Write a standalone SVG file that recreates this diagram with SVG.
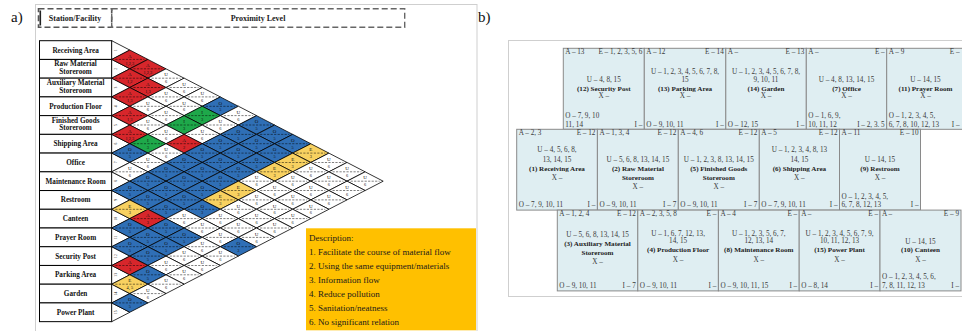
<svg xmlns="http://www.w3.org/2000/svg" xmlns:xlink="http://www.w3.org/1999/xlink" width="962" height="331" viewBox="0 0 962 331">
<style>
text{font-family:"Liberation Serif","Times New Roman",serif}
.lab{font-size:15px;fill:#111}
.hd{font-size:8px;font-weight:bold;text-anchor:middle;fill:#222}
.st rect{fill:#fff;stroke:#000;stroke-width:1}
.st text{font-size:7.2px;font-weight:bold;text-anchor:middle;fill:#111}
#rel text{font-size:5px;text-anchor:middle;fill:#111}
#rel text.n{font-size:4.3px}
#rownum text{font-size:3.6px;text-anchor:middle;fill:#111}
.a{fill:#d7262b}.e{fill:#f8d160}.i{fill:#1ea84a}.o{fill:#2f6fb6}.u{fill:#fff}
.desc text{font-size:9px;fill:#1a1a1a}
.bk rect{fill:#dfeef2;stroke:#8a8a8a;stroke-width:1}
.bk text{font-size:7.2px;fill:#3a3a3a}
.bk text.r{text-anchor:end}
.bk text.c{text-anchor:middle}
.bk text.b{font-weight:bold;font-size:7.1px;fill:#222}
</style>
<defs>
<g id="d"><polygon points="-18.1,0 0,-9.365 18.1,0 0,9.365" stroke="#000" stroke-width="0.8"/><line x1="-14.5" y1="0" x2="14.5" y2="0" stroke="#000" stroke-width="0.5" stroke-dasharray="2.2,1.3" fill="none"/></g>
</defs>
<rect width="962" height="331" fill="#fff"/>

<!-- panel a -->
<rect x="35.5" y="4.5" width="441.5" height="340" fill="none" stroke="#cfcfcf" stroke-width="1"/>
<text x="11" y="21.5" class="lab">a)</text>
<g id="header">
<rect x="38.5" y="8.7" width="73.2" height="18.6" fill="none" stroke="#555" stroke-width="1.6" stroke-dasharray="6,3"/>
<line x1="40.3" y1="10.5" x2="40.3" y2="25.5" stroke="#222" stroke-width="1.6"/>
<rect x="111.7" y="8.7" width="293" height="18.6" fill="none" stroke="#666" stroke-width="1.4" stroke-dasharray="6,3"/>
<text x="75" y="20.8" class="hd">Station/Facility</text>
<text x="258" y="20.8" class="hd">Proximity Level</text>
</g>

<g id="stations" class="st">
<g id="st1"><rect x="39.5" y="40.7" width="72.2" height="18.73"/><text x="75.6" y="52.6">Receiving Area</text></g>
<g id="st2"><rect x="39.5" y="59.43" width="72.2" height="18.73"/><text x="75.6" y="66.4">Raw Material</text><text x="75.6" y="74.1">Storeroom</text></g>
<g id="st3"><rect x="39.5" y="78.16" width="72.2" height="18.73"/><text x="75.6" y="85.1">Auxiliary Material</text><text x="75.6" y="92.8">Storeroom</text></g>
<g id="st4"><rect x="39.5" y="96.89" width="72.2" height="18.73"/><text x="75.6" y="108.8">Production Floor</text></g>
<g id="st5"><rect x="39.5" y="115.62" width="72.2" height="18.73"/><text x="75.6" y="122.6">Finished Goods</text><text x="75.6" y="130.3">Storeroom</text></g>
<g id="st6"><rect x="39.5" y="134.35" width="72.2" height="18.73"/><text x="75.6" y="146.2">Shipping Area</text></g>
<g id="st7"><rect x="39.5" y="153.08" width="72.2" height="18.73"/><text x="75.6" y="165">Office</text></g>
<g id="st8"><rect x="39.5" y="171.81" width="72.2" height="18.73"/><text x="75.6" y="183.7">Maintenance Room</text></g>
<g id="st9"><rect x="39.5" y="190.54" width="72.2" height="18.73"/><text x="75.6" y="202.4">Restroom</text></g>
<g id="st10"><rect x="39.5" y="209.27" width="72.2" height="18.73"/><text x="75.6" y="221.1">Canteen</text></g>
<g id="st11"><rect x="39.5" y="228" width="72.2" height="18.73"/><text x="75.6" y="239.9">Prayer Room</text></g>
<g id="st12"><rect x="39.5" y="246.73" width="72.2" height="18.73"/><text x="75.6" y="258.6">Security Post</text></g>
<g id="st13"><rect x="39.5" y="265.46" width="72.2" height="18.73"/><text x="75.6" y="277.3">Parking Area</text></g>
<g id="st14"><rect x="39.5" y="284.19" width="72.2" height="18.73"/><text x="75.6" y="296.1">Garden</text></g>
<g id="st15"><rect x="39.5" y="302.92" width="72.2" height="18.73"/><text x="75.6" y="314.8">Power Plant</text></g>
</g>

<g id="rownum">
<path d="M111.7,40.7 L129.8,50.07 L111.7,59.43 L129.8,68.8 L111.7,78.16 L129.8,87.53 L111.7,96.89 L129.8,106.26 L111.7,115.62 L129.8,124.99 L111.7,134.35 L129.8,143.72 L111.7,153.08 L129.8,162.45 L111.7,171.81 L129.8,181.18 L111.7,190.54 L129.8,199.91 L111.7,209.27 L129.8,218.64 L111.7,228 L129.8,237.37 L111.7,246.73 L129.8,256.1 L111.7,265.46 L129.8,274.83 L111.7,284.19 L129.8,293.56 L111.7,302.92 L129.8,312.29 L111.7,321.65 Z" fill="#fff" stroke="#000" stroke-width="0.8"/>
<text transform="translate(117,50.07) rotate(-90)">1</text>
<text transform="translate(117,68.8) rotate(-90)">2</text>
<text transform="translate(117,87.53) rotate(-90)">3</text>
<text transform="translate(117,106.26) rotate(-90)">4</text>
<text transform="translate(117,124.99) rotate(-90)">5</text>
<text transform="translate(117,143.72) rotate(-90)">6</text>
<text transform="translate(117,162.45) rotate(-90)">7</text>
<text transform="translate(117,181.18) rotate(-90)">8</text>
<text transform="translate(117,199.91) rotate(-90)">9</text>
<text transform="translate(117,218.64) rotate(-90)">10</text>
<text transform="translate(117,237.37) rotate(-90)">11</text>
<text transform="translate(117,256.1) rotate(-90)">12</text>
<text transform="translate(117,274.83) rotate(-90)">13</text>
<text transform="translate(117,293.56) rotate(-90)">14</text>
<text transform="translate(117,312.29) rotate(-90)">15</text>
</g>

<g id="rel">
<!-- row 1 -->
<g transform="translate(129.8,59.4)"><use href="#d" class="a"/><text y="-1.8">A</text><text y="5.2" class="n">1,2,3</text></g>
<g transform="translate(147.9,68.8)"><use href="#d" class="a"/><text y="-1.8">A</text><text y="5.2" class="n">1,2,3</text></g>
<g transform="translate(166,78.2)"><use href="#d" class="u"/><text y="-1.8">U</text><text y="5.2" class="n">6</text></g>
<g transform="translate(184.1,87.5)"><use href="#d" class="u"/><text y="-1.8">U</text><text y="5.2" class="n">6</text></g>
<g transform="translate(202.2,96.9)"><use href="#d" class="u"/><text y="-1.8">U</text><text y="5.2" class="n">6</text></g>
<g transform="translate(220.3,106.3)"><use href="#d" class="o"/><text y="-1.8">O</text><text y="5.2" class="n">5</text></g>
<g transform="translate(238.4,115.6)"><use href="#d" class="u"/><text y="-1.8">U</text><text y="5.2" class="n">6</text></g>
<g transform="translate(256.5,125)"><use href="#d" class="o"/><text y="-1.8">O</text><text y="5.2" class="n">5</text></g>
<g transform="translate(274.6,134.4)"><use href="#d" class="o"/><text y="-1.8">O</text><text y="5.2" class="n">5</text></g>
<g transform="translate(292.7,143.7)"><use href="#d" class="o"/><text y="-1.8">O</text><text y="5.2" class="n">5</text></g>
<g transform="translate(310.8,153.1)"><use href="#d" class="e"/><text y="-1.8">E</text><text y="5.2" class="n">3</text></g>
<g transform="translate(328.9,162.5)"><use href="#d" class="u"/><text y="-1.8">U</text><text y="5.2" class="n">6</text></g>
<g transform="translate(347,171.8)"><use href="#d" class="u"/><text y="-1.8">U</text><text y="5.2" class="n">6</text></g>
<g transform="translate(365.1,181.2)"><use href="#d" class="u"/><text y="-1.8">U</text><text y="5.2" class="n">6</text></g>
<!-- row 2 -->
<g transform="translate(129.8,78.2)"><use href="#d" class="a"/><text y="-1.8">A</text><text y="5.2" class="n">1,2</text></g>
<g transform="translate(147.9,87.5)"><use href="#d" class="a"/><text y="-1.8">A</text><text y="5.2" class="n">1,3</text></g>
<g transform="translate(166,96.9)"><use href="#d" class="u"/><text y="-1.8">U</text><text y="5.2" class="n">6</text></g>
<g transform="translate(184.1,106.3)"><use href="#d" class="u"/><text y="-1.8">U</text><text y="5.2" class="n">6</text></g>
<g transform="translate(202.2,115.6)"><use href="#d" class="i"/><text y="-1.8">I</text><text y="5.2" class="n">3</text></g>
<g transform="translate(220.3,125)"><use href="#d" class="u"/><text y="-1.8">U</text><text y="5.2" class="n">6</text></g>
<g transform="translate(238.4,134.4)"><use href="#d" class="o"/><text y="-1.8">O</text><text y="5.2" class="n">5</text></g>
<g transform="translate(256.5,143.7)"><use href="#d" class="o"/><text y="-1.8">O</text><text y="5.2" class="n">5</text></g>
<g transform="translate(274.6,153.1)"><use href="#d" class="o"/><text y="-1.8">O</text><text y="5.2" class="n">5</text></g>
<g transform="translate(292.7,162.5)"><use href="#d" class="e"/><text y="-1.8">E</text><text y="5.2" class="n">3</text></g>
<g transform="translate(310.8,171.8)"><use href="#d" class="u"/><text y="-1.8">U</text><text y="5.2" class="n">6</text></g>
<g transform="translate(328.9,181.2)"><use href="#d" class="u"/><text y="-1.8">U</text><text y="5.2" class="n">6</text></g>
<g transform="translate(347,190.5)"><use href="#d" class="u"/><text y="-1.8">U</text><text y="5.2" class="n">6</text></g>
<!-- row 3 -->
<g transform="translate(129.8,96.9)"><use href="#d" class="a"/><text y="-1.8">A</text><text y="5.2" class="n">1,3</text></g>
<g transform="translate(147.9,106.3)"><use href="#d" class="u"/><text y="-1.8">U</text><text y="5.2" class="n">6</text></g>
<g transform="translate(166,115.6)"><use href="#d" class="u"/><text y="-1.8">U</text><text y="5.2" class="n">6</text></g>
<g transform="translate(184.1,125)"><use href="#d" class="i"/><text y="-1.8">I</text><text y="5.2" class="n">3</text></g>
<g transform="translate(202.2,134.4)"><use href="#d" class="u"/><text y="-1.8">U</text><text y="5.2" class="n">6</text></g>
<g transform="translate(220.3,143.7)"><use href="#d" class="o"/><text y="-1.8">O</text><text y="5.2" class="n">5</text></g>
<g transform="translate(238.4,153.1)"><use href="#d" class="o"/><text y="-1.8">O</text><text y="5.2" class="n">5</text></g>
<g transform="translate(256.5,162.5)"><use href="#d" class="o"/><text y="-1.8">O</text><text y="5.2" class="n">5</text></g>
<g transform="translate(274.6,171.8)"><use href="#d" class="e"/><text y="-1.8">E</text><text y="5.2" class="n">3</text></g>
<g transform="translate(292.7,181.2)"><use href="#d" class="u"/><text y="-1.8">U</text><text y="5.2" class="n">6</text></g>
<g transform="translate(310.8,190.5)"><use href="#d" class="u"/><text y="-1.8">U</text><text y="5.2" class="n">6</text></g>
<g transform="translate(328.9,199.9)"><use href="#d" class="u"/><text y="-1.8">U</text><text y="5.2" class="n">6</text></g>
<!-- row 4 -->
<g transform="translate(129.8,115.6)"><use href="#d" class="a"/><text y="-1.8">A</text><text y="5.2" class="n">1,3</text></g>
<g transform="translate(147.9,125)"><use href="#d" class="u"/><text y="-1.8">U</text><text y="5.2" class="n">6</text></g>
<g transform="translate(166,134.4)"><use href="#d" class="u"/><text y="-1.8">U</text><text y="5.2" class="n">6</text></g>
<g transform="translate(184.1,143.7)"><use href="#d" class="a"/><text y="-1.8">A</text><text y="5.2" class="n">2</text></g>
<g transform="translate(202.2,153.1)"><use href="#d" class="o"/><text y="-1.8">O</text><text y="5.2" class="n">5</text></g>
<g transform="translate(220.3,162.5)"><use href="#d" class="o"/><text y="-1.8">O</text><text y="5.2" class="n">5</text></g>
<g transform="translate(238.4,171.8)"><use href="#d" class="o"/><text y="-1.8">O</text><text y="5.2" class="n">5</text></g>
<g transform="translate(256.5,181.2)"><use href="#d" class="u"/><text y="-1.8">U</text><text y="5.2" class="n">6</text></g>
<g transform="translate(274.6,190.5)"><use href="#d" class="u"/><text y="-1.8">U</text><text y="5.2" class="n">6</text></g>
<g transform="translate(292.7,199.9)"><use href="#d" class="u"/><text y="-1.8">U</text><text y="5.2" class="n">6</text></g>
<g transform="translate(310.8,209.3)"><use href="#d" class="u"/><text y="-1.8">U</text><text y="5.2" class="n">6</text></g>
<!-- row 5 -->
<g transform="translate(129.8,134.4)"><use href="#d" class="a"/><text y="-1.8">A</text><text y="5.2" class="n">1,2,3</text></g>
<g transform="translate(147.9,143.7)"><use href="#d" class="i"/><text y="-1.8">I</text><text y="5.2" class="n">3</text></g>
<g transform="translate(166,153.1)"><use href="#d" class="u"/><text y="-1.8">U</text><text y="5.2" class="n">6</text></g>
<g transform="translate(184.1,162.5)"><use href="#d" class="o"/><text y="-1.8">O</text><text y="5.2" class="n">5</text></g>
<g transform="translate(202.2,171.8)"><use href="#d" class="o"/><text y="-1.8">O</text><text y="5.2" class="n">5</text></g>
<g transform="translate(220.3,181.2)"><use href="#d" class="o"/><text y="-1.8">O</text><text y="5.2" class="n">5</text></g>
<g transform="translate(238.4,190.5)"><use href="#d" class="e"/><text y="-1.8">E</text><text y="5.2" class="n">3</text></g>
<g transform="translate(256.5,199.9)"><use href="#d" class="u"/><text y="-1.8">U</text><text y="5.2" class="n">6</text></g>
<g transform="translate(274.6,209.3)"><use href="#d" class="u"/><text y="-1.8">U</text><text y="5.2" class="n">6</text></g>
<g transform="translate(292.7,218.6)"><use href="#d" class="u"/><text y="-1.8">U</text><text y="5.2" class="n">6</text></g>
<!-- row 6 -->
<g transform="translate(129.8,153.1)"><use href="#d" class="o"/><text y="-1.8">O</text><text y="5.2" class="n">5</text></g>
<g transform="translate(147.9,162.5)"><use href="#d" class="u"/><text y="-1.8">U</text><text y="5.2" class="n">6</text></g>
<g transform="translate(166,171.8)"><use href="#d" class="o"/><text y="-1.8">O</text><text y="5.2" class="n">5</text></g>
<g transform="translate(184.1,181.2)"><use href="#d" class="o"/><text y="-1.8">O</text><text y="5.2" class="n">5</text></g>
<g transform="translate(202.2,190.5)"><use href="#d" class="o"/><text y="-1.8">O</text><text y="5.2" class="n">5</text></g>
<g transform="translate(220.3,199.9)"><use href="#d" class="e"/><text y="-1.8">E</text><text y="5.2" class="n">3</text></g>
<g transform="translate(238.4,209.3)"><use href="#d" class="u"/><text y="-1.8">U</text><text y="5.2" class="n">6</text></g>
<g transform="translate(256.5,218.6)"><use href="#d" class="u"/><text y="-1.8">U</text><text y="5.2" class="n">6</text></g>
<g transform="translate(274.6,228)"><use href="#d" class="u"/><text y="-1.8">U</text><text y="5.2" class="n">6</text></g>
<!-- row 7 -->
<g transform="translate(129.8,171.8)"><use href="#d" class="u"/><text y="-1.8">U</text><text y="5.2" class="n">6</text></g>
<g transform="translate(147.9,181.2)"><use href="#d" class="o"/><text y="-1.8">O</text><text y="5.2" class="n">5</text></g>
<g transform="translate(166,190.5)"><use href="#d" class="o"/><text y="-1.8">O</text><text y="5.2" class="n">5</text></g>
<g transform="translate(184.1,199.9)"><use href="#d" class="o"/><text y="-1.8">O</text><text y="5.2" class="n">5</text></g>
<g transform="translate(202.2,209.3)"><use href="#d" class="o"/><text y="-1.8">O</text><text y="5.2" class="n">3</text></g>
<g transform="translate(220.3,218.6)"><use href="#d" class="u"/><text y="-1.8">U</text><text y="5.2" class="n">6</text></g>
<g transform="translate(238.4,228)"><use href="#d" class="u"/><text y="-1.8">U</text><text y="5.2" class="n">6</text></g>
<g transform="translate(256.5,237.4)"><use href="#d" class="u"/><text y="-1.8">U</text><text y="5.2" class="n">6</text></g>
<!-- row 8 -->
<g transform="translate(129.8,190.5)"><use href="#d" class="o"/><text y="-1.8">O</text><text y="5.2" class="n">5</text></g>
<g transform="translate(147.9,199.9)"><use href="#d" class="o"/><text y="-1.8">O</text><text y="5.2" class="n">5</text></g>
<g transform="translate(166,209.3)"><use href="#d" class="o"/><text y="-1.8">O</text><text y="5.2" class="n">5</text></g>
<g transform="translate(184.1,218.6)"><use href="#d" class="u"/><text y="-1.8">U</text><text y="5.2" class="n">6</text></g>
<g transform="translate(202.2,228)"><use href="#d" class="u"/><text y="-1.8">U</text><text y="5.2" class="n">6</text></g>
<g transform="translate(220.3,237.4)"><use href="#d" class="u"/><text y="-1.8">U</text><text y="5.2" class="n">6</text></g>
<g transform="translate(238.4,246.7)"><use href="#d" class="o"/><text y="-1.8">O</text><text y="5.2" class="n">3</text></g>
<!-- row 9 -->
<g transform="translate(129.8,209.3)"><use href="#d" class="e"/><text y="-1.8">E</text><text y="5.2" class="n">3</text></g>
<g transform="translate(147.9,218.6)"><use href="#d" class="a"/><text y="-1.8">A</text><text y="5.2" class="n">3</text></g>
<g transform="translate(166,228)"><use href="#d" class="o"/><text y="-1.8">O</text><text y="5.2" class="n">5</text></g>
<g transform="translate(184.1,237.4)"><use href="#d" class="o"/><text y="-1.8">O</text><text y="5.2" class="n">5</text></g>
<g transform="translate(202.2,246.7)"><use href="#d" class="u"/><text y="-1.8">U</text><text y="5.2" class="n">6</text></g>
<g transform="translate(220.3,256.1)"><use href="#d" class="u"/><text y="-1.8">U</text><text y="5.2" class="n">6</text></g>
<!-- row 10 -->
<g transform="translate(129.8,228)"><use href="#d" class="o"/><text y="-1.8">O</text><text y="5.2" class="n">5</text></g>
<g transform="translate(147.9,237.4)"><use href="#d" class="o"/><text y="-1.8">O</text><text y="5.2" class="n">5</text></g>
<g transform="translate(166,246.7)"><use href="#d" class="o"/><text y="-1.8">O</text><text y="5.2" class="n">5</text></g>
<g transform="translate(184.1,256.1)"><use href="#d" class="u"/><text y="-1.8">U</text><text y="5.2" class="n">6</text></g>
<g transform="translate(202.2,265.5)"><use href="#d" class="u"/><text y="-1.8">U</text><text y="5.2" class="n">6</text></g>
<!-- row 11 -->
<g transform="translate(129.8,246.7)"><use href="#d" class="o"/><text y="-1.8">O</text><text y="5.2" class="n">5</text></g>
<g transform="translate(147.9,256.1)"><use href="#d" class="o"/><text y="-1.8">O</text><text y="5.2" class="n">5</text></g>
<g transform="translate(166,265.5)"><use href="#d" class="u"/><text y="-1.8">U</text><text y="5.2" class="n">6</text></g>
<g transform="translate(184.1,274.8)"><use href="#d" class="u"/><text y="-1.8">U</text><text y="5.2" class="n">6</text></g>
<!-- row 12 -->
<g transform="translate(129.8,265.5)"><use href="#d" class="a"/><text y="-1.8">A</text><text y="5.2" class="n">3</text></g>
<g transform="translate(147.9,274.8)"><use href="#d" class="o"/><text y="-1.8">O</text><text y="5.2" class="n">5</text></g>
<g transform="translate(166,284.2)"><use href="#d" class="u"/><text y="-1.8">U</text><text y="5.2" class="n">6</text></g>
<!-- row 13 -->
<g transform="translate(129.8,284.2)"><use href="#d" class="e"/><text y="-1.8">E</text><text y="5.2" class="n">4, 5</text></g>
<g transform="translate(147.9,293.6)"><use href="#d" class="u"/><text y="-1.8">U</text><text y="5.2" class="n">6</text></g>
<!-- row 14 -->
<g transform="translate(129.8,302.9)"><use href="#d" class="o"/><text y="-1.8">O</text><text y="5.2" class="n">5</text></g>
</g>

<g id="description" class="desc">
<rect x="306" y="228.3" width="170" height="102" fill="#ffc000"/>
<text x="309" y="241">Description:</text>
<text x="309" y="254.5">1. Facilitate the course of material flow</text>
<text x="309" y="268.5">2. Using the same equipment/materials</text>
<text x="309" y="282.5">3. Information flow</text>
<text x="309" y="296.5">4. Reduce pollution</text>
<text x="309" y="310.5">5. Sanitation/neatness</text>
<text x="309" y="324.5">6. No significant relation</text>
</g>

<!-- panel b -->
<text x="478" y="21.5" class="lab">b)</text>
<rect x="508.5" y="40.5" width="470" height="256" fill="none" stroke="#cfcfcf" stroke-width="1"/>

<g class="bk">
<g id="blk12"><rect x="563.3" y="48.3" width="81" height="81"/>
<text x="565.3" y="54.1">A – 13</text><text x="642.3" y="54.1" class="r">E – 1, 2, 3, 5, 6</text>
<text x="603.8" y="81.6" class="c">U – 4, 8, 15</text>
<text x="603.8" y="90.6" class="c b">(12) Security Post</text>
<text x="603.8" y="98.4" class="c">X –</text>
<text x="565.3" y="117.9">O – 7, 9, 10</text><text x="565.3" y="126.5">11, 14</text>
<text x="642.3" y="126.5" class="r">I –</text></g>

<g id="blk13"><rect x="644.3" y="48.3" width="81.5" height="81"/>
<text x="646.3" y="54.1">A – 12</text><text x="723.8" y="54.1" class="r">E – 14</text>
<text x="685" y="74" class="c">U – 1, 2, 3, 4, 5, 6, 7, 8,</text>
<text x="685" y="81.6" class="c">15</text>
<text x="685" y="90.6" class="c b">(13) Parking Area</text>
<text x="685" y="98.4" class="c">X –</text>
<text x="646.3" y="126.5">O – 9, 10, 11</text>
<text x="723.8" y="126.5" class="r">I –</text></g>

<g id="blk14"><rect x="725.8" y="48.3" width="80.5" height="81"/>
<text x="727.8" y="54.1">A –</text><text x="804.3" y="54.1" class="r">E – 13</text>
<text x="766" y="74" class="c">U – 1, 2, 3, 4, 5, 6, 7, 8,</text>
<text x="766" y="81.6" class="c">9, 10, 11</text>
<text x="766" y="90.6" class="c b">(14) Garden</text>
<text x="766" y="98.4" class="c">X –</text>
<text x="727.8" y="126.5">O – 12, 15</text>
<text x="804.3" y="126.5" class="r">I –</text></g>

<g id="blk7"><rect x="806.3" y="48.3" width="80.4" height="81"/>
<text x="808.3" y="54.1">A –</text><text x="884.7" y="54.1" class="r">E –</text>
<text x="846.5" y="81.6" class="c">U – 4, 8, 13, 14, 15</text>
<text x="846.5" y="90.6" class="c b">(7) Office</text>
<text x="846.5" y="98.4" class="c">X –</text>
<text x="808.3" y="117.9">O – 1, 6, 9,</text><text x="808.3" y="126.5">10, 11, 12</text>
<text x="884.7" y="126.5" class="r">I – 2, 3. 5</text></g>

<g id="blk11"><rect x="886.7" y="48.3" width="81" height="81"/>
<text x="888.7" y="54.1">A – 9</text><text x="959.5" y="54.1" class="r">E –</text>
<text x="925.5" y="81.6" class="c">U – 14, 15</text>
<text x="925.5" y="90.6" class="c b">(11) Prayer Room</text>
<text x="925.5" y="98.4" class="c">X –</text>
<text x="888.7" y="117.9">O – 1, 2, 3, 4, 5,</text><text x="888.7" y="126.5">6, 7, 8, 10, 12, 13</text>
<text x="959.5" y="126.5" class="r">I –</text></g>

<g id="blk1"><rect x="516.7" y="129.3" width="80.7" height="80.8"/>
<text x="518.7" y="135.1">A – 2, 3</text><text x="595.4" y="135.1" class="r">E – 12</text>
<text x="557" y="152.4" class="c">U – 4, 5, 6, 8,</text>
<text x="557" y="161.6" class="c">13, 14, 15</text>
<text x="557" y="171.3" class="c b">(1) Receiving Area</text>
<text x="557" y="180" class="c">X –</text>
<text x="518.7" y="207.3">O – 7, 9, 10, 11</text>
<text x="595.4" y="207.3" class="r">I –</text></g>

<g id="blk2"><rect x="597.4" y="129.3" width="80.9" height="80.8"/>
<text x="599.4" y="135.1">A – 1, 3, 4</text><text x="676.3" y="135.1" class="r">E – 12</text>
<text x="637.9" y="161.6" class="c">U – 5, 6, 8, 13, 14, 15</text>
<text x="637.9" y="171.3" class="c b">(2) Raw Material</text>
<text x="637.9" y="180" class="c b">Storeroom</text>
<text x="637.9" y="189" class="c">X –</text>
<text x="599.4" y="207.3">O – 9, 10, 11</text>
<text x="676.3" y="207.3" class="r">I – 7</text></g>

<g id="blk5"><rect x="678.3" y="129.3" width="81" height="80.8"/>
<text x="680.3" y="135.1">A – 4, 6</text><text x="757.3" y="135.1" class="r">E – 12</text>
<text x="718.8" y="161.6" class="c">U – 1, 2, 3, 8, 13, 14, 15</text>
<text x="718.8" y="171.3" class="c b">(5) Finished Goods</text>
<text x="718.8" y="180" class="c b">Storeroom</text>
<text x="718.8" y="189" class="c">X –</text>
<text x="680.3" y="207.3">O – 9, 10, 11</text>
<text x="757.3" y="207.3" class="r">I – 7</text></g>

<g id="blk6"><rect x="759.3" y="129.3" width="80.2" height="80.8"/>
<text x="761.3" y="135.1">A – 5</text><text x="837.5" y="135.1" class="r">E – 12</text>
<text x="799.4" y="152.4" class="c">U – 1, 2, 3, 4, 8, 13</text>
<text x="799.4" y="161.6" class="c">14, 15</text>
<text x="799.4" y="171.3" class="c b">(6) Shipping Area</text>
<text x="799.4" y="180" class="c">X –</text>
<text x="761.3" y="207.3">O – 7, 9, 10, 11</text>
<text x="837.5" y="207.3" class="r">I –</text></g>

<g id="blk9"><rect x="839.5" y="129.3" width="81" height="80.8"/>
<text x="841.5" y="135.1">A – 11</text><text x="918.5" y="135.1" class="r">E – 10</text>
<text x="880" y="161.6" class="c">U – 14, 15</text>
<text x="880" y="171.3" class="c b">(9) Restroom</text>
<text x="880" y="180" class="c">X –</text>
<text x="841.5" y="198.7">O – 1, 2, 3, 4, 5,</text><text x="841.5" y="207.3">6, 7, 8, 12, 13</text>
<text x="918.5" y="207.3" class="r">I –</text></g>

<g id="blk3"><rect x="557.3" y="210.1" width="80.5" height="80.8"/>
<text x="559.3" y="215.9">A – 1, 2, 4</text><text x="635.8" y="215.9" class="r">E – 12</text>
<text x="597.5" y="236.6" class="c">U – 5, 6, 8, 13, 14, 15</text>
<text x="597.5" y="246.3" class="c b">(3) Auxiliary Material</text>
<text x="597.5" y="255" class="c b">Storeroom</text>
<text x="597.5" y="264" class="c">X –</text>
<text x="559.3" y="288.1">O – 9, 10, 11</text>
<text x="635.8" y="288.1" class="r">I – 7</text></g>

<g id="blk4"><rect x="637.8" y="210.1" width="80.6" height="80.8"/>
<text x="639.8" y="215.9">A – 2, 3, 5, 8</text><text x="716.4" y="215.9" class="r">E –</text>
<text x="678.1" y="235.6" class="c">U – 1, 6, 7, 12, 13,</text>
<text x="678.1" y="243.2" class="c">14, 15</text>
<text x="678.1" y="252.3" class="c b">(4) Production Floor</text>
<text x="678.1" y="261.6" class="c">X –</text>
<text x="639.8" y="288.1">O – 9, 10, 11</text>
<text x="716.4" y="288.1" class="r">I –</text></g>

<g id="blk8"><rect x="718.4" y="210.1" width="80.8" height="80.8"/>
<text x="720.4" y="215.9">A – 4</text><text x="797.2" y="215.9" class="r">E –</text>
<text x="758.8" y="235.6" class="c">U – 1, 2, 3, 5, 6, 7,</text>
<text x="758.8" y="243.2" class="c">12, 13, 14</text>
<text x="758.8" y="252.3" class="c b">(8) Maintenance Room</text>
<text x="758.8" y="261.6" class="c">X –</text>
<text x="720.4" y="288.1">O – 9, 10, 11, 15</text>
<text x="797.2" y="288.1" class="r">I –</text></g>

<g id="blk15"><rect x="799.2" y="210.1" width="80.8" height="80.8"/>
<text x="801.2" y="215.9">A –</text><text x="878" y="215.9" class="r">E –</text>
<text x="839.6" y="235.6" class="c">U – 1, 2, 3, 4, 5, 6, 7, 9,</text>
<text x="839.6" y="243.2" class="c">10, 11, 12, 13</text>
<text x="839.6" y="252.3" class="c b">(15) Power Plant</text>
<text x="839.6" y="261.6" class="c">X –</text>
<text x="801.2" y="288.1">O – 8, 14</text>
<text x="878" y="288.1" class="r">I –</text></g>

<g id="blk10"><rect x="880" y="210.1" width="81" height="80.8"/>
<text x="882" y="215.9">A –</text><text x="959" y="215.9" class="r">E – 9</text>
<text x="920.5" y="244" class="c">U – 14, 15</text>
<text x="920.5" y="252.3" class="c b">(10) Canteen</text>
<text x="920.5" y="261.6" class="c">X –</text>
<text x="882" y="279.4">O – 1, 2, 3, 4, 5, 6,</text><text x="882" y="288.1">7, 8, 11, 12, 13</text>
<text x="959" y="288.1" class="r">I –</text></g>
</g>
</svg>
